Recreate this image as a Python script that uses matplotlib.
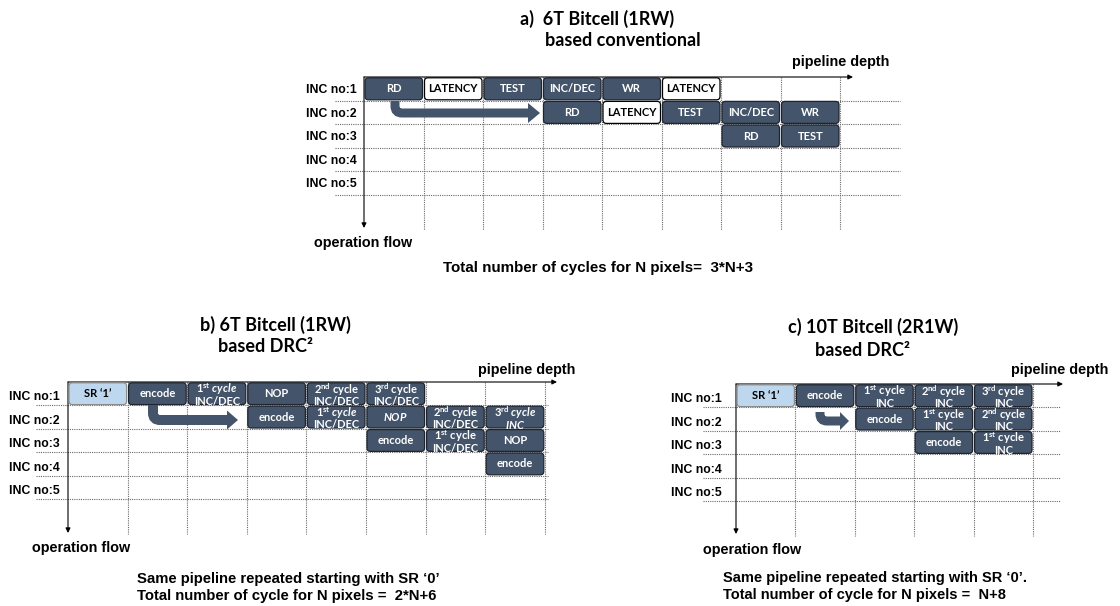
import matplotlib.pyplot as plt
from matplotlib.patches import FancyBboxPatch, PathPatch, Polygon
from matplotlib.path import Path

plt.rcParams['mathtext.fontset'] = 'custom'
plt.rcParams['mathtext.rm'] = 'Lato:bold'
plt.rcParams['mathtext.it'] = 'Lato:italic:bold'
plt.rcParams['mathtext.bf'] = 'Lato:bold'

# ---- data: which stage runs in which cycle (column) for which increment (row)
inc_labels = ['INC no:1', 'INC no:2', 'INC no:3', 'INC no:4', 'INC no:5']

a_row = [0, 0, 0, 0, 0, 0, 1, 1, 1, 1, 1, 2, 2]
a_col = [0, 1, 2, 3, 4, 5, 3, 4, 5, 6, 7, 6, 7]
a_text = ['RD', 'LATENCY', 'TEST', 'INC/DEC', 'WR', 'LATENCY',
          'RD', 'LATENCY', 'TEST', 'INC/DEC', 'WR',
          'RD', 'TEST']

b_row = [0, 0, 0, 0, 0, 0, 1, 1, 1, 1, 1, 2, 2, 2, 3]
b_col = [0, 1, 2, 3, 4, 5, 3, 4, 5, 6, 7, 5, 6, 7, 7]
b_text = ['SR \u20181\u2019', 'encode',
          '1$^{\\mathrm{st}}$ $\\mathit{cycle}$\nINC/DEC', 'NOP',
          '2$^{\\mathrm{nd}}$ cycle\nINC/DEC', '3$^{\\mathrm{rd}}$ cycle\nINC/DEC',
          'encode', '1$^{\\mathrm{st}}$ $\\mathit{cycle}$\nINC/DEC', '$\\mathit{NOP}$',
          '2$^{\\mathrm{nd}}$ cycle\nINC/DEC', '3$^{\\mathrm{rd}}$ $\\mathit{cycle}$\n$\\mathit{INC}$',
          'encode', '1$^{\\mathrm{st}}$ cycle\nINC/DEC', 'NOP',
          'encode']

c_row = [0, 0, 0, 0, 0, 1, 1, 1, 2, 2]
c_col = [0, 1, 2, 3, 4, 2, 3, 4, 3, 4]
c_text = ['SR \u20181\u2019', 'encode', '1$^{\\mathrm{st}}$ cycle\nINC',
          '2$^{\\mathrm{nd}}$ cycle\nINC', '3$^{\\mathrm{rd}}$ cycle\nINC',
          'encode', '1$^{\\mathrm{st}}$ cycle\nINC', '2$^{\\mathrm{nd}}$ cycle\nINC',
          'encode', '1$^{\\mathrm{st}}$ cycle\nINC']

DARK = '#44546a'
LIGHT = '#bdd7ee'
GRID = '#6a6a6a'

fig = plt.figure(figsize=(11.2, 6.06), dpi=100)
ax = fig.add_axes([0, 0, 1, 1])
ax.set_xlim(0, 1120)
ax.set_ylim(606, 0)
ax.axis('off')

SANS = 'Liberation Sans'
CAL = 'Lato'


def bent_arrow(x, y1, y2, xb, xt, hh, w):
    r = 7
    verts = [(x, y1), (x, y2 - r), (x, y2), (x + r, y2), (xb + 1, y2)]
    codes = [Path.MOVETO, Path.LINETO, Path.CURVE3, Path.CURVE3, Path.LINETO]
    ax.add_patch(PathPatch(Path(verts, codes), fill=False, lw=w * 0.72, ec=DARK,
                           capstyle='butt', zorder=4))
    ax.add_patch(Polygon([(xb, y2 - hh), (xt, y2), (xb, y2 + hh)], closed=True,
                         fc=DARK, ec='none', zorder=4))


def panel(x0, y0, cw, rh, ncols, xl, xr, ybot, xarr, yarr, lab_x, lab_f,
          rows, cols, texts):
    for i in range(1, 6):
        ax.plot([xl, xr], [y0 + i * rh] * 2, ls=(0, (1, 1)), color=GRID, lw=0.8, zorder=1)
    for j in range(1, ncols + 1):
        ax.plot([x0 + j * cw] * 2, [y0, ybot], ls=(0, (1, 1)), color=GRID, lw=0.8, zorder=1)
    ap = dict(arrowstyle='-|>', color='k', lw=0.8, mutation_scale=7, shrinkA=0, shrinkB=0)
    ax.annotate('', xy=(xarr, y0), xytext=(x0, y0), arrowprops=ap, zorder=2)
    ax.annotate('', xy=(x0, yarr), xytext=(x0, y0), arrowprops=ap, zorder=2)
    for i, lab in enumerate(inc_labels):
        ax.text(lab_x, y0 + (i + lab_f) * rh, lab, ha='right', va='center',
                fontsize=8.8, fontweight='bold', family=SANS)
    for r, c, t in zip(rows, cols, texts):
        bx = x0 + c * cw + 1
        by = y0 + r * rh + 0.8
        if t.startswith('SR'):
            fc, ec, tc = LIGHT, '#8c8c8c', 'k'
        elif t == 'LATENCY':
            fc, ec, tc = 'white', 'k', 'k'
        else:
            fc, ec, tc = DARK, '#1e2530', 'white'
        box = FancyBboxPatch((bx, by), cw - 2, rh - 1.6,
                             boxstyle='round,pad=0,rounding_size=3.5',
                             fc=fc, ec=ec, lw=0.9, zorder=3)
        ax.add_patch(box)
        lines = t.split('\n')
        cx = bx + (cw - 2) / 2
        if len(lines) == 1:
            ax.text(cx, by + (rh - 1.6) / 2, t, ha='center', va='center', color=tc,
                    fontsize=8, fontweight='bold', family=CAL, zorder=5)
        else:
            for k, ln in enumerate(lines):
                tx = ax.text(cx, by + 6.5 + k * 12, ln, ha='center', va='center', color=tc,
                             fontsize=8, fontweight='bold', family=CAL, zorder=5)
                tx.set_clip_path(box)


# ---- panel a
panel(364, 77, 59.5, 23.6, 8, 335, 900, 230, 853, 228, 357, 0.55, a_row, a_col, a_text)
bent_arrow(395, 101, 113, 528, 540, 10, 9)
ax.text(520, 19, 'a)  6T Bitcell (1RW)', ha='left', va='center', fontsize=13, fontweight='bold', family=CAL)
ax.text(545, 41, 'based conventional', ha='left', va='center', fontsize=13, fontweight='bold', family=CAL)
ax.text(841, 62, 'pipeline depth', ha='center', va='center', fontsize=10.4, fontweight='bold', family=SANS)
ax.text(314, 243, 'operation flow', ha='left', va='center', fontsize=10.4, fontweight='bold', family=SANS)
ax.text(443, 268, 'Total number of cycles for N pixels=  3*N+3', ha='left', va='center',
        fontsize=10.9, fontweight='bold', family=SANS)

# ---- panel b
panel(68, 382, 59.6, 23.4, 8, 36, 548, 534, 557, 533, 60, 0.66, b_row, b_col, b_text)
bent_arrow(153, 405, 420, 227, 238, 9.5, 10)
ax.text(200, 325, 'b) 6T Bitcell (1RW)', ha='left', va='center', fontsize=13, fontweight='bold', family=CAL)
ax.text(218, 347, 'based DRC\u00b2', ha='left', va='center', fontsize=13, fontweight='bold', family=CAL)
ax.text(527, 370, 'pipeline depth', ha='center', va='center', fontsize=10.4, fontweight='bold', family=SANS)
ax.text(32, 548, 'operation flow', ha='left', va='center', fontsize=10.4, fontweight='bold', family=SANS)
ax.text(137, 579, 'Same pipeline repeated starting with SR \u20180\u2019', ha='left', va='center',
        fontsize=10.7, fontweight='bold', family=SANS)
ax.text(137, 596, 'Total number of cycle for N pixels =  2*N+6', ha='left', va='center',
        fontsize=10.7, fontweight='bold', family=SANS)

# ---- panel c
panel(736, 384, 59.4, 23.4, 5, 703, 1060, 536, 1063, 534, 722, 0.66, c_row, c_col, c_text)
bent_arrow(820, 412, 421, 840, 849, 9, 9)
ax.text(788, 327, 'c) 10T Bitcell (2R1W)', ha='left', va='center', fontsize=13, fontweight='bold', family=CAL)
ax.text(815, 350, 'based DRC\u00b2', ha='left', va='center', fontsize=13, fontweight='bold', family=CAL)
ax.text(1060, 370, 'pipeline depth', ha='center', va='center', fontsize=10.4, fontweight='bold', family=SANS)
ax.text(703, 550, 'operation flow', ha='left', va='center', fontsize=10.4, fontweight='bold', family=SANS)
ax.text(723, 578, 'Same pipeline repeated starting with SR \u20180\u2019.', ha='left', va='center',
        fontsize=10.5, fontweight='bold', family=SANS)
ax.text(723, 595, 'Total number of cycle for N pixels =  N+8', ha='left', va='center',
        fontsize=10.5, fontweight='bold', family=SANS)

fig.savefig('out.png', dpi=100)
